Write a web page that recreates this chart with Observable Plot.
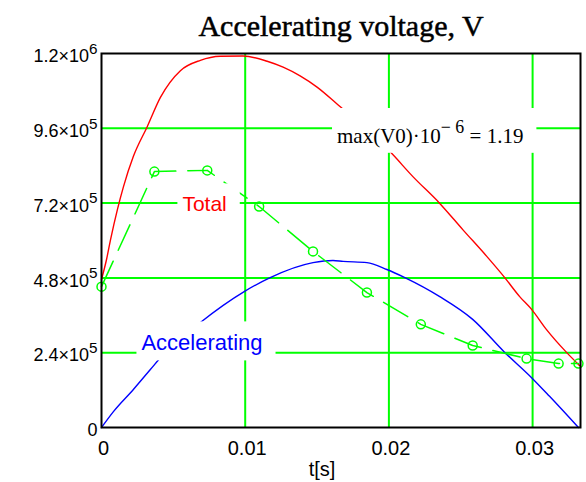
<!DOCTYPE html>
<html>
<head>
<meta charset="utf-8">
<script src="https://cdn.jsdelivr.net/npm/d3@7"></script>
<script src="https://cdn.jsdelivr.net/npm/@observablehq/plot@0.6"></script>
<style>
  html, body { margin: 0; padding: 0; background: #fff; }
</style>
</head>
<body>
<div id="chart"></div>
<script>
// ---- data ----
const titleText = "Accelerating voltage, V";
const xLabelText = "t[s]";

const xTicks = [0, 0.01, 0.02, 0.03];
const xTickLabels = ["0", "0.01", "0.02", "0.03"];
const yTicks = [0, 2.4e5, 4.8e5, 7.2e5, 9.6e5, 1.2e6];
const yTickMantissa = ["0", "2.4", "4.8", "7.2", "9.6", "1.2"];
const yTickExponent = [null, "5", "5", "5", "5", "6"];
const xGrid = [0.01, 0.02, 0.03];
const yGrid = [2.4e5, 4.8e5, 7.2e5, 9.6e5];

// Total voltage (red)
const totalT = [0, 0.00035, 0.00063, 0.00111, 0.00153, 0.00222, 0.00319, 0.00410, 0.00549, 0.00688,
  0.00826, 0.00986, 0.01153, 0.01264, 0.01382, 0.01500, 0.01639, 0.02014, 0.02167, 0.02354,
  0.02514, 0.02681, 0.02806, 0.02910, 0.02993, 0.03097, 0.03236, 0.03326];
const totalV = [475e3, 539e3, 603e3, 700e3, 773e3, 870e3, 966e3, 1059e3, 1145e3, 1178e3,
  1191e3, 1192e3, 1175e3, 1156e3, 1128e3, 1092e3, 1038e3, 882e3, 805e3, 719e3,
  635e3, 549e3, 481e3, 420e3, 379e3, 314e3, 241e3, 199e3];

// Accelerating voltage (blue)
const accT = [0, 0.00083, 0.00222, 0.00340, 0.00431, 0.00688, 0.00993, 0.01174, 0.01472, 0.01611,
  0.01681, 0.01847, 0.01986, 0.02111, 0.02354, 0.02583, 0.02806, 0.02993, 0.03118, 0.03319];
const accV = [0, 51e3, 122e3, 186e3, 235e3, 337e3, 436e3, 481e3, 529e3, 536e3,
  533e3, 529e3, 507e3, 481e3, 420e3, 347e3, 241e3, 160e3, 100e3, 0];

// Sampled series (green, dashed with circles)
const sampT = [0, 0.00368, 0.00736, 0.01097, 0.01472, 0.01847, 0.02222, 0.02583, 0.02958, 0.03181, 0.03319];
const sampV = [452e3, 821e3, 825e3, 709e3, 565e3, 433e3, 331e3, 263e3, 221e3, 205e3, 205e3];

// Annotations
const labelText = ["Total", "Accelerating", "max(V0)·10^− 6^ = 1.19"];
const labelT = [0.00563, 0.00278, 0.01639];
const labelV = [715e3, 270e3, 935e3];

// ---- build tables ----
const total = totalT.map((t, i) => ({t, v: totalV[i]}));
const acc = accT.map((t, i) => ({t, v: accV[i]}));
const samp = sampT.map((t, i) => ({t, v: sampV[i]}));
const labels = labelText.map((text, i) => ({text, t: labelT[i], v: labelV[i]}));

const GREEN = "#00ff00";
const SANS = "'Liberation Sans', Arial, sans-serif";
const SERIF = "'Liberation Serif', 'Times New Roman', serif";

const yFmt = d => {
  const i = yTicks.indexOf(d);
  return yTickExponent[i] ? `${yTickMantissa[i]}×10^${yTickExponent[i]}` : yTickMantissa[i];
};
const xFmt = d => xTickLabels[xTicks.indexOf(d)];

const svg = Plot.plot({
  width: 586,
  height: 482,
  marginLeft: 101,
  marginRight: 6,
  marginTop: 53,
  marginBottom: 55,
  x: {domain: [0, 1 / 30]},
  y: {domain: [0, 1.2e6]},
  style: {background: "#fff", fontFamily: SANS, overflow: "visible"},
  marks: [
    Plot.ruleX(xGrid, {stroke: GREEN, strokeWidth: 2}),
    Plot.ruleY(yGrid, {stroke: GREEN, strokeWidth: 2}),
    Plot.line(total, {x: "t", y: "v", stroke: "#ff0000", strokeWidth: 1.4, curve: "monotone-x"}),
    Plot.line(acc, {x: "t", y: "v", stroke: "#0000ff", strokeWidth: 1.4, curve: "monotone-x"}),
    Plot.line(samp, {x: "t", y: "v", stroke: GREEN, strokeWidth: 1.5, strokeDasharray: "28,12"}),
    Plot.dot(samp, {x: "t", y: "v", r: 4.5, stroke: GREEN, strokeWidth: 1.5, fill: "none"}),
    Plot.text([labels[0]], {x: "t", y: "v", text: "text", textAnchor: "start", fill: "#ff0000", fontSize: 21, fontFamily: SANS}),
    Plot.text([labels[1]], {x: "t", y: "v", text: "text", textAnchor: "start", fill: "#0000ff", fontSize: 22, fontFamily: SANS}),
    Plot.text([labels[2]], {x: "t", y: "v", text: "text", textAnchor: "start", fill: "#000", fontSize: 21, fontFamily: SERIF}),
    Plot.frame({stroke: "#000", strokeWidth: 2}),
    Plot.axisY(yTicks, {label: null, tickSize: 0, tickPadding: 4, tickFormat: yFmt, fontSize: 18, fill: "#000", dy: 3}),
    Plot.axisX(xTicks, {label: null, tickSize: 0, tickPadding: 13, tickFormat: xFmt, fontSize: 20, fill: "#000", dx: 2}),
    Plot.text([titleText], {text: d => d, frameAnchor: "top", lineAnchor: "middle", dy: -27, fontSize: 30, fontFamily: SERIF, fill: "#000", stroke: "#000", strokeWidth: 0.5}),
    Plot.text([xLabelText], {text: d => d, frameAnchor: "bottom", lineAnchor: "middle", dy: 42, dx: -19, fontSize: 20, fontFamily: SANS, fill: "#000"})
  ]
});

document.getElementById("chart").append(svg);

// ---- superscripts: split text on "^" (odd parts are raised) ----
const NS = "http://www.w3.org/2000/svg";
svg.querySelectorAll("text").forEach(el => {
  const s = el.textContent;
  if (!s.includes("^")) return;
  const parts = s.split("^");
  el.textContent = "";
  parts.forEach((p, i) => {
    if (!p) return;
    const ts = document.createElementNS(NS, "tspan");
    ts.textContent = p;
    if (i % 2 === 1) {
      ts.setAttribute("font-size", "0.85em");
      ts.setAttribute("dy", "-0.55em");
    } else if (i > 0) {
      ts.setAttribute("dy", "0.4675em");
    }
    el.append(ts);
  });
});

// ---- white boxes behind the in-plot labels (Mathcad style) ----
const boxed = labelText.map(s => s.replace(/\^/g, ""));
svg.querySelectorAll("text").forEach(el => {
  if (!boxed.includes(el.textContent)) return;
  const b = el.getBBox();
  const r = document.createElementNS(NS, "rect");
  r.setAttribute("x", b.x - 5);
  r.setAttribute("y", b.y - 9);
  r.setAttribute("width", b.width + 18);
  r.setAttribute("height", b.height + 14);
  r.setAttribute("fill", "#fff");
  r.setAttribute("stroke", "none");
  const tr = el.getAttribute("transform");
  if (tr) r.setAttribute("transform", tr);
  el.parentNode.insertBefore(r, el);
});
</script>
</body>
</html>
